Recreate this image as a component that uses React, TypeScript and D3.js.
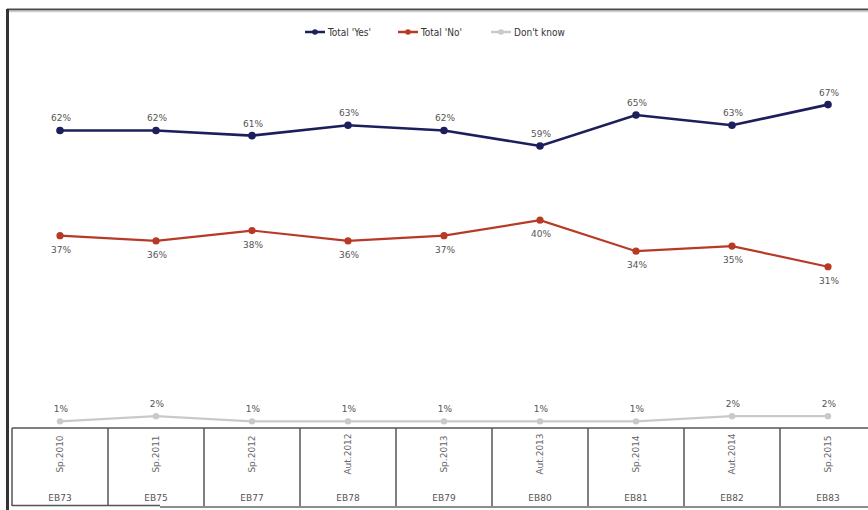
import React from "react";
import * as d3 from "d3";

const waves = ["Sp.2010", "Sp.2011", "Sp.2012", "Aut.2012", "Sp.2013", "Aut.2013", "Sp.2014", "Aut.2014", "Sp.2015"];
const surveys = ["EB73", "EB75", "EB77", "EB78", "EB79", "EB80", "EB81", "EB82", "EB83"];
const yesValues = [62, 62, 61, 63, 62, 59, 65, 63, 67];
const noValues = [37, 36, 38, 36, 37, 40, 34, 35, 31];
const dkValues = [1, 2, 1, 1, 1, 1, 1, 2, 2];

const W = 868;
const H = 510;

export default function App() {
  const x = d3.scaleBand<string>().domain(waves).range([12, 876]).paddingInner(0).paddingOuter(0);
  const cx = (w: string) => (x(w) as number) + x.bandwidth() / 2;
  const y = d3.scaleLinear().domain([0, 100]).range([427, 427 - 517]);
  const yYes = (v: number) => y(v) + 24;

  const series = [
    { name: "Total 'Yes'", values: yesValues, color: "#1d1f5c", yf: yYes, width: 2.6, r: 3.8, labelPos: "above" },
    { name: "Total 'No'", values: noValues, color: "#b83a26", yf: (v: number) => y(v), width: 2.2, r: 3.6, labelPos: "below" },
    { name: "Don't know", values: dkValues, color: "#c9c9c9", yf: (v: number) => y(v) - 0.5, width: 2.2, r: 3.2, labelPos: "above" },
  ];

  const legendX = [305, 398, 491];

  return (
    <svg width={W} height={H} style={{ position: "absolute", left: 0, top: 0, background: "#fff" }}
      fontFamily="'DejaVu Sans', sans-serif">
      <rect x={0} y={0} width={W} height={H} fill="#fff" />
      {/* frame */}
      <line x1={7} y1={9.5} x2={W} y2={9.5} stroke="#4a4a4a" strokeWidth={2} />
      <line x1={7} y1={11.5} x2={W} y2={11.5} stroke="#cfcfcf" strokeWidth={1.5} />
      <line x1={7.5} y1={9} x2={7.5} y2={H} stroke="#333" strokeWidth={3} />

      {/* legend */}
      {series.map((s, i) => (
        <g key={s.name}>
          <line x1={legendX[i]} x2={legendX[i] + 20} y1={32} y2={32} stroke={s.color} strokeWidth={2.5} />
          <circle cx={legendX[i] + 10} cy={32} r={2.8} fill={s.color} />
          <text x={legendX[i] + 23} y={35.5} fontSize={10} fill="#333"
            fontFamily="'DejaVu Sans Condensed', 'DejaVu Sans', sans-serif">{s.name}</text>
        </g>
      ))}

      {/* lines */}
      {series.map((s) => {
        const line = d3.line<number>().x((_, i) => cx(waves[i])).y((v) => s.yf(v));
        return (
          <g key={s.name + "l"}>
            <path d={line(s.values) || ""} fill="none" stroke={s.color} strokeWidth={s.width} />
            {s.values.map((v, i) => (
              <circle key={i} cx={cx(waves[i])} cy={s.yf(v)} r={s.r} fill={s.color} />
            ))}
            {s.values.map((v, i) => (
              <text key={"t" + i} x={cx(waves[i]) + 1} y={s.labelPos === "above" ? s.yf(v) - 9 : s.yf(v) + 17}
                textAnchor="middle" fontSize={9} fill="#555">{v}%</text>
            ))}
          </g>
        );
      })}

      {/* table */}
      <line x1={12} x2={W} y1={428} y2={428} stroke="#555" strokeWidth={1.5} />
      <line x1={12} x2={160} y1={505.5} y2={505.5} stroke="#555" strokeWidth={1.5} />
      <line x1={160} x2={W} y1={507} y2={507} stroke="#666" strokeWidth={1.5} />
      {waves.map((w, i) => (
        <line key={"v" + i} x1={x(w) as number} x2={x(w) as number} y1={428} y2={506} stroke="#555" strokeWidth={1.5} />
      ))}
      {waves.map((w, i) => (
        <g key={"c" + i}>
          <text transform={`translate(${cx(w) + 3},${454}) rotate(-90)`} textAnchor="middle" fontSize={9} fill="#666">{w}</text>
          <text x={cx(w)} y={501} textAnchor="middle" fontSize={9} fill="#555">{surveys[i]}</text>
        </g>
      ))}
    </svg>
  );
}
